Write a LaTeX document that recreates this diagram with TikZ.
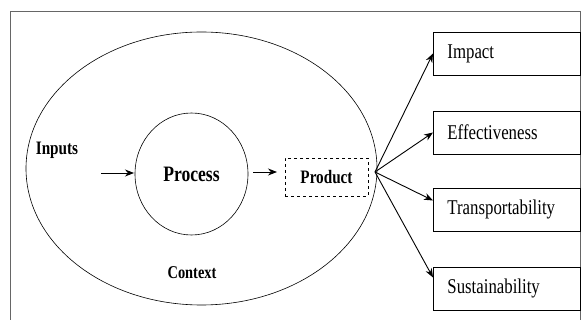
\documentclass[tikz,border=0pt]{standalone}
\usepackage{fontspec}
\setmainfont{Liberation Serif}[FakeStretch=0.8]
\usetikzlibrary{arrows.meta,shapes.geometric}

\begin{document}
\begin{tikzpicture}[x=1pt,y=-1pt]
\useasboundingbox (0,0) rectangle (581,320);
\draw [gray!80!black] (10,330) -- (10,11) -- (580,11) -- (580,330);

\tikzset{bld/.style={font=\bfseries\fontsize{#1}{#1}\selectfont},
  outbox/.style={draw,line width=0.9pt,rectangle,anchor=west,minimum height=43pt,
    text width=119pt,inner xsep=14pt,align=left,font=\fontsize{21}{24}\selectfont}};

\node (ctx) [ellipse,draw,line width=0.6pt,minimum width=351pt,minimum height=273pt] at (201.5,168.5) {};
\node (proc) [ellipse,draw,line width=0.6pt,minimum width=113pt,minimum height=122pt,bld=22] at (191.5,174) {Process};
\node (inp) [bld=19] at (57,150) {Inputs};
\node (cnt) [bld=18] at (192,273) {Context};
\node (prod) [draw,dashed,minimum width=83pt,minimum height=38pt,bld=19] at (326.5,177) {Product};

\node (imp) [outbox] at (433,53.5) {Impact};
\node (eff) [outbox] at (433,132.5) {Effectiveness};
\node (trans) [outbox] at (433,209.5) {Transportability};
\node (sust) [outbox] at (433,288.5) {Sustainability};

\coordinate (in) at (101,173);
\coordinate (in2) at (134,173);
\coordinate (out) at (253,172);
\coordinate (out2) at (277,172);
\coordinate (fork) at (375,172);

\tikzset{arr/.style={-{Stealth[length=9pt,width=7pt]},line width=0.9pt}};
\path (in) edge [arr] (in2);
\path (out) edge [arr] (out2);
\path (fork) edge [arr] (imp.west);
\path (fork) edge [arr] (eff.west);
\path (fork) edge [arr] ([yshift=9pt]trans.west);
\path (fork) edge [arr] ([yshift=11pt]sust.west);
\end{tikzpicture}
\end{document}
